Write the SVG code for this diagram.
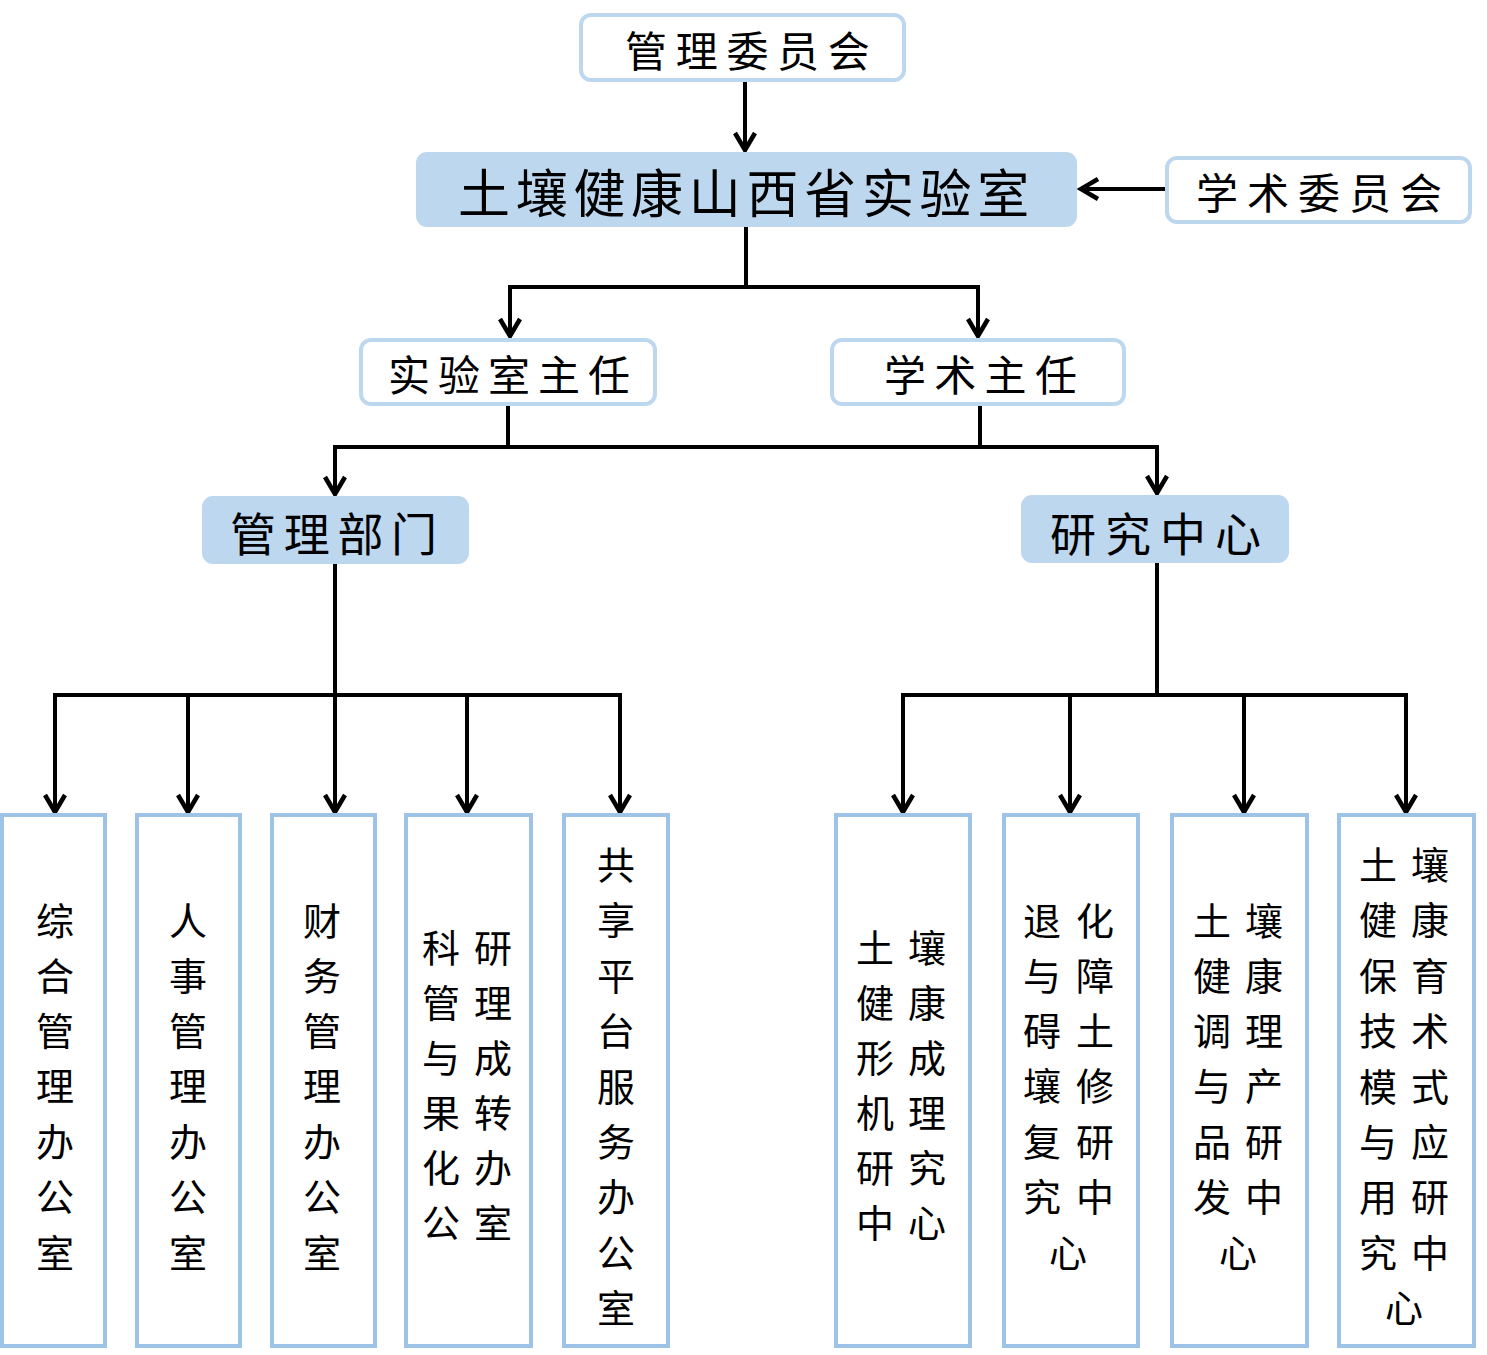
<svg xmlns="http://www.w3.org/2000/svg" width="1487" height="1355" viewBox="0 0 1487 1355">
<style>
text{font-family:"Noto Sans CJK SC","Noto Sans",sans-serif;fill:#000;dominant-baseline:central}
.ob{fill:#fff;stroke:#BDD7EE;stroke-width:4}
.fb{fill:#BDD7EE;stroke:#BDD7EE;stroke-width:2}
.vb{fill:#fff;stroke:#9DC3E6;stroke-width:4}
.c{fill:none;stroke:#000;stroke-width:4}
.a{marker-end:url(#ah)}
.v{font-size:38px;text-anchor:middle}
</style>
<defs>
<marker id="ah" markerUnits="userSpaceOnUse" markerWidth="40" markerHeight="40" refX="0" refY="0" orient="auto" overflow="visible">
<path d="M-17,-10 L0,0 L-17,10" fill="none" stroke="#000" stroke-width="4.5"/>
</marker>
</defs>
<g id="connectors">
<path class="c a" d="M745,80 V150"/>
<path class="c a" d="M1166,189 H1081"/>
<path class="c" d="M746,227 V287"/>
<path class="c a" d="M746,287 H510 V336"/>
<path class="c a" d="M746,287 H978 V336"/>
<path class="c" d="M508,404 V447"/>
<path class="c" d="M980,404 V447 H508"/>
<path class="c a" d="M508,447 H335 V494"/>
<path class="c a" d="M980,447 H1157 V493"/>
<path class="c" d="M335,564 V695"/>
<path class="c a" d="M335,695 H55 V812"/>
<path class="c a" d="M335,695 H188 V812"/>
<path class="c a" d="M335,695 V812"/>
<path class="c a" d="M335,695 H467 V812"/>
<path class="c a" d="M335,695 H620 V812"/>
<path class="c" d="M1157,563 V695"/>
<path class="c a" d="M1157,695 H903 V812"/>
<path class="c a" d="M1157,695 H1070 V812"/>
<path class="c a" d="M1157,695 H1244 V812"/>
<path class="c a" d="M1157,695 H1406 V812"/>
</g>
<g id="n-mgmt-committee">
<rect class="ob" x="581" y="15" width="323" height="65" rx="10"/>
<text x="625" y="48" font-size="42" letter-spacing="8.7">管理委员会</text>
</g>
<g id="n-lab">
<rect class="fb" x="417" y="153" width="659" height="73" rx="10"/>
<text x="458" y="190" font-size="52" letter-spacing="5.7">土壤健康山西省实验室</text>
</g>
<g id="n-academic-committee">
<rect class="ob" x="1167" y="158" width="303" height="64" rx="10"/>
<text x="1196" y="190" font-size="42" letter-spacing="9">学术委员会</text>
</g>
<g id="n-lab-director">
<rect class="ob" x="361" y="340" width="294" height="64" rx="10"/>
<text x="388" y="372" font-size="42" letter-spacing="8">实验室主任</text>
</g>
<g id="n-academic-director">
<rect class="ob" x="832" y="340" width="292" height="64" rx="10"/>
<text x="884" y="372" font-size="42" letter-spacing="8.3">学术主任</text>
</g>
<g id="n-mgmt-dept">
<rect class="fb" x="203" y="497" width="265" height="66" rx="10"/>
<text x="230" y="531" font-size="46" letter-spacing="7.7">管理部门</text>
</g>
<g id="n-research-center">
<rect class="fb" x="1022" y="496" width="266" height="66" rx="10"/>
<text x="1050" y="531" font-size="46" letter-spacing="9">研究中心</text>
</g>
<g id="n-general-office">
<rect class="vb" x="2" y="815" width="103" height="531"/>
<text class="v"><tspan x="55" y="918">综</tspan><tspan x="55" y="973">合</tspan><tspan x="55" y="1028">管</tspan><tspan x="55" y="1083">理</tspan><tspan x="55" y="1139">办</tspan><tspan x="55" y="1194">公</tspan><tspan x="55" y="1250">室</tspan></text>
</g>
<g id="n-hr-office">
<rect class="vb" x="137" y="815" width="103" height="531"/>
<text class="v"><tspan x="188" y="918">人</tspan><tspan x="188" y="973">事</tspan><tspan x="188" y="1028">管</tspan><tspan x="188" y="1083">理</tspan><tspan x="188" y="1139">办</tspan><tspan x="188" y="1194">公</tspan><tspan x="188" y="1250">室</tspan></text>
</g>
<g id="n-finance-office">
<rect class="vb" x="272" y="815" width="103" height="531"/>
<text class="v"><tspan x="322" y="918">财</tspan><tspan x="322" y="973">务</tspan><tspan x="322" y="1028">管</tspan><tspan x="322" y="1083">理</tspan><tspan x="322" y="1139">办</tspan><tspan x="322" y="1194">公</tspan><tspan x="322" y="1250">室</tspan></text>
</g>
<g id="n-research-mgmt-office">
<rect class="vb" x="406" y="815" width="125" height="531"/>
<text class="v"><tspan x="441 493" y="945">科研</tspan><tspan x="441 493" y="1000">管理</tspan><tspan x="441 493" y="1055">与成</tspan><tspan x="441 493" y="1110">果转</tspan><tspan x="441 493" y="1165">化办</tspan><tspan x="441 493" y="1220">公室</tspan></text>
</g>
<g id="n-platform-office">
<rect class="vb" x="564" y="815" width="104" height="531"/>
<text class="v"><tspan x="616" y="862">共</tspan><tspan x="616" y="917">享</tspan><tspan x="616" y="973">平</tspan><tspan x="616" y="1028">台</tspan><tspan x="616" y="1084">服</tspan><tspan x="616" y="1139">务</tspan><tspan x="616" y="1194">办</tspan><tspan x="616" y="1250">公</tspan><tspan x="616" y="1305">室</tspan></text>
</g>
<g id="n-center-1">
<rect class="vb" x="836" y="815" width="134" height="531"/>
<text class="v"><tspan x="875 927" y="945">土壤</tspan><tspan x="875 927" y="1000">健康</tspan><tspan x="875 927" y="1055">形成</tspan><tspan x="875 927" y="1110">机理</tspan><tspan x="875 927" y="1165">研究</tspan><tspan x="875 927" y="1220">中心</tspan></text>
</g>
<g id="n-center-2">
<rect class="vb" x="1004" y="815" width="134" height="531"/>
<text class="v"><tspan x="1042 1095" y="918">退化</tspan><tspan x="1042 1095" y="973">与障</tspan><tspan x="1042 1095" y="1028">碍土</tspan><tspan x="1042 1095" y="1083">壤修</tspan><tspan x="1042 1095" y="1139">复研</tspan><tspan x="1042 1095" y="1194">究中</tspan><tspan x="1068" y="1250">心</tspan></text>
</g>
<g id="n-center-3">
<rect class="vb" x="1172" y="815" width="135" height="531"/>
<text class="v"><tspan x="1212 1264" y="918">土壤</tspan><tspan x="1212 1264" y="973">健康</tspan><tspan x="1212 1264" y="1028">调理</tspan><tspan x="1212 1264" y="1083">与产</tspan><tspan x="1212 1264" y="1139">品研</tspan><tspan x="1212 1264" y="1194">发中</tspan><tspan x="1238" y="1250">心</tspan></text>
</g>
<g id="n-center-4">
<rect class="vb" x="1339" y="815" width="135" height="531"/>
<text class="v"><tspan x="1378 1430" y="862">土壤</tspan><tspan x="1378 1430" y="917">健康</tspan><tspan x="1378 1430" y="973">保育</tspan><tspan x="1378 1430" y="1028">技术</tspan><tspan x="1378 1430" y="1084">模式</tspan><tspan x="1378 1430" y="1139">与应</tspan><tspan x="1378 1430" y="1194">用研</tspan><tspan x="1378 1430" y="1250">究中</tspan><tspan x="1404" y="1305">心</tspan></text>
</g>
</svg>
